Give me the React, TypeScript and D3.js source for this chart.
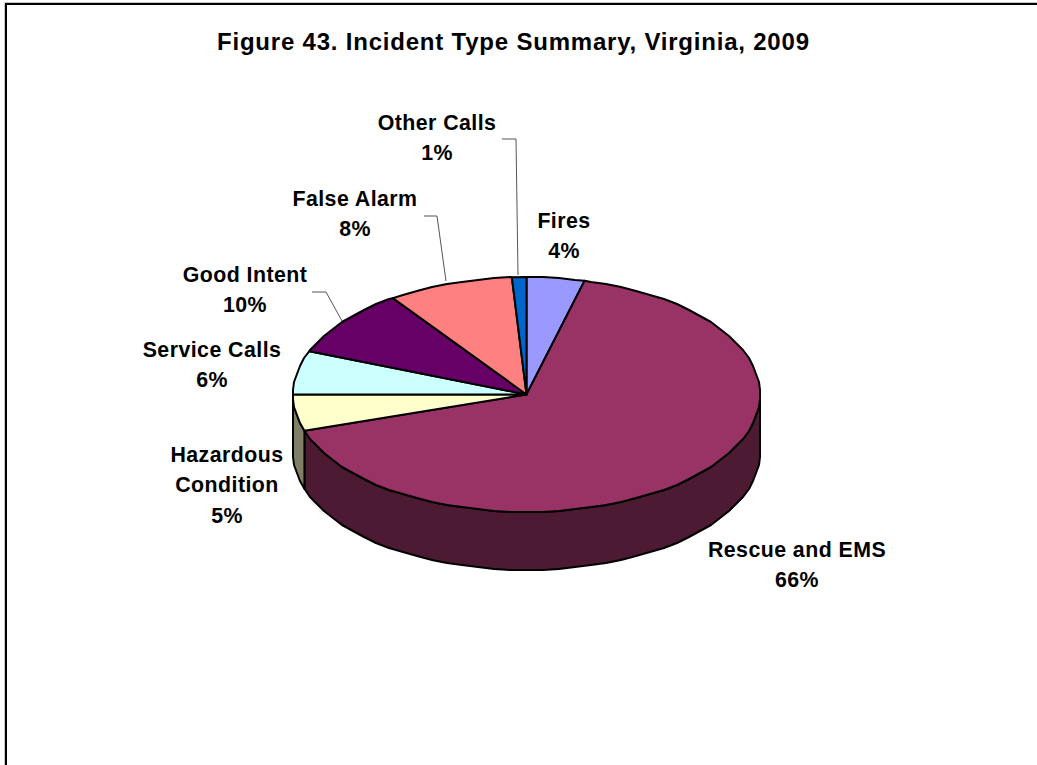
import React from "react";
import * as d3 from "d3";

const titleText = "Figure 43. Incident Type Summary, Virginia, 2009";
const categories = ["Fires", "Rescue and EMS", "Hazardous Condition", "Service Calls", "Good Intent", "False Alarm", "Other Calls"];
const values = [4, 66, 5, 6, 9.3, 8.7, 1];
const percentLabels = ["4%", "66%", "5%", "6%", "10%", "8%", "1%"];
const topColors = ["#9999ff", "#993366", "#ffffcc", "#ccffff", "#660066", "#ff8080", "#0066cc"];
const sideColors = ["#4d4d80", "#4d1a33", "#808066", "#668080", "#330033", "#804040", "#003366"];
const labelLines = [["Fires"], ["Rescue and EMS"], ["Hazardous", "Condition"], ["Service Calls"], ["Good Intent"], ["False Alarm"], ["Other Calls"]];
const labelAnchors = [[564, 228], [797, 557], [227, 462], [212, 357], [245, 282], [355, 206], [437, 130]];
const leaders = [null, null, null, null, [[312, 292], [326, 292], [342, 321]], [[424, 216], [437, 216], [446, 281]], [[502, 139], [516, 139], [518, 275]]];

const W = 1037, H = 765;
const cx = 526.5, cy = 394.5, rx = 233.5, ry = 117.5, depth = 58;
const FONT = "'Liberation Sans', Arial, sans-serif";

const pie = d3.pie<number>().sort(null).value((d) => d);
const arcs = pie(values);
const pt = (a: number, dy = 0): [number, number] => [cx + rx * Math.sin(a), cy - ry * Math.cos(a) + dy];
const STEP = (4 * Math.PI) / 180;
function rim(a0: number, a1: number, dy = 0): [number, number][] {
  const pts: [number, number][] = [pt(a0, dy)];
  const first = Math.ceil(a0 / STEP + 1e-6);
  for (let i = first; i * STEP < a1 - 1e-6; i++) {
    const [x, y] = pt(i * STEP, dy);
    pts.push([Math.round(x), Math.round(y)]);
  }
  pts.push(pt(a1, dy));
  return pts;
}
const line = d3.line();

export default function App() {
  const visible = arcs
    .map((a, i) => ({ i, a0: Math.max(a.startAngle, Math.PI / 2), a1: Math.min(a.endAngle, (3 * Math.PI) / 2) }))
    .filter((s) => s.a1 > s.a0);
  return (
    <svg width={W} height={H} style={{ position: "absolute", left: 0, top: 0, background: "#fff" }}>
      <path d={`M4.5,${H}V2.5H${W}`} fill="none" stroke="#c8c8c8" strokeWidth={1} />
      <path d={`M6,${H}V4H${W}`} fill="none" stroke="#000" strokeWidth={2} />
      <text x={513} y={50} textAnchor="middle" fontFamily={FONT} fontWeight={700} fontSize={24} textLength={592} lengthAdjust="spacing">{titleText}</text>
      {visible.map((s) => {
        const front = rim(s.a0, s.a1);
        const back = rim(s.a0, s.a1, depth).reverse();
        return <path key={s.i} d={line([...front, ...back])! + "Z"} fill={sideColors[s.i]} stroke="#000" strokeWidth={2} strokeLinejoin="round" />;
      })}
      {arcs.map((a, i) => (
        <path key={i} d={line([[cx, cy], ...rim(a.startAngle, a.endAngle)])! + "Z"} fill={topColors[i]} stroke="#000" strokeWidth={2} strokeLinejoin="round" />
      ))}
      {leaders.map((l, i) => l && (
        <path key={i} d={line(l as [number, number][])!} fill="none" stroke="#555" strokeWidth={1} />
      ))}
      {categories.map((c, i) => {
        const lines = [...labelLines[i], percentLabels[i]];
        return (
          <g key={c}>
            {lines.map((t, j) => (
              <text key={j} x={labelAnchors[i][0]} y={labelAnchors[i][1] + j * 30.3} textAnchor="middle" fontFamily={FONT} fontWeight={700} fontSize={21.33} letterSpacing={0.45}>{t}</text>
            ))}
          </g>
        );
      })}
    </svg>
  );
}
